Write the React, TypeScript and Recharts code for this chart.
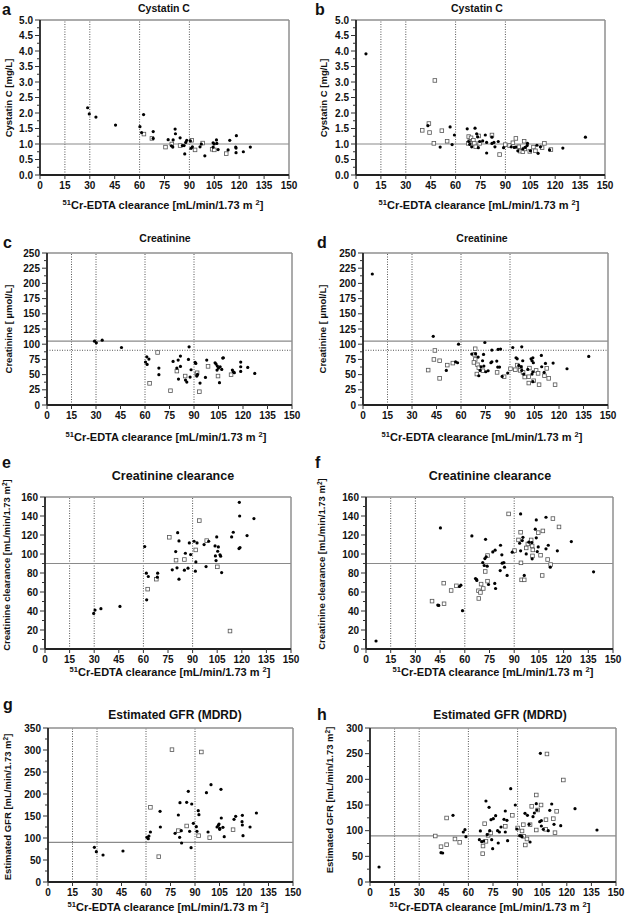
import React from "react";
import { ReferenceLine, Scatter, ScatterChart, XAxis, YAxis } from "recharts";

type Pt = [number, number];

// shared x axis (51Cr-EDTA clearance)
const xTicks = [0, 15, 30, 45, 60, 75, 90, 105, 120, 135, 150];
const gfrCutoffs = [15, 30, 60, 90];

// y tick labels
const cystatinTicks = [0, 0.5, 1, 1.5, 2, 2.5, 3, 3.5, 4, 4.5, 5];
const creatinineTicks = [0, 25, 50, 75, 100, 125, 150, 175, 200, 225, 250];
const crClTicks = [0, 20, 40, 60, 80, 100, 120, 140, 160];
const egfrTicksG = [0, 50, 100, 150, 200, 250, 300, 350];
const egfrTicksH = [0, 50, 100, 150, 200, 250, 300];

// a: cystatin C, left group
const cysAFilled: Pt[] = [
  [28.7, 2.17], [29.7, 1.97], [33.7, 1.87], [45.5, 1.61], [60.2, 1.56], [61.2, 1.37], [62.4, 1.95],
  [68.2, 1.4], [68.2, 1.18], [81.4, 1.48], [81.6, 1.33], [77.2, 1.14], [80.2, 1.13], [84.4, 1.2],
  [79.2, 0.94], [80, 0.9], [85.8, 0.95], [86.8, 0.95], [87.2, 0.68], [87.8, 1.05], [88.4, 1.12],
  [90.6, 1.1], [91.8, 0.91], [91, 0.86], [96.4, 0.91], [97.2, 1.0], [99.3, 0.62], [104.3, 1.04],
  [104.9, 1.0], [104.3, 0.9], [106.3, 1.13], [106.5, 1.02], [107.3, 0.82], [114.3, 1.12], [113.3, 0.81],
  [118.3, 1.27], [117.9, 0.9], [118.1, 0.87], [118.1, 0.72], [122.5, 0.75], [126.7, 0.9],
];
const cysAOpen: Pt[] = [
  [62.6, 1.32], [67.4, 1.18], [75.6, 0.9], [79.4, 1.0], [84.4, 0.95], [91.4, 1.12], [93.4, 0.81],
  [98, 1.03], [103.7, 0.83], [105, 0.81], [112.2, 0.69],
];

// b: cystatin C, right group
const cysBFilled: Pt[] = [
  [6, 3.91], [43.3, 1.59], [50.7, 0.9], [56.7, 1.55], [57.9, 0.98], [59.3, 1.29], [67, 1.49], [71.7, 1.51],
  [67.9, 1.08], [68.5, 0.99], [69.7, 0.91], [72.7, 1.33], [73.3, 1.23], [73.7, 0.88], [74.5, 1.08],
  [76.3, 1.1], [77.9, 1.29], [78.7, 1.05], [78.7, 0.71], [81.9, 1.22], [81.9, 1.02], [83.1, 1.05],
  [83.7, 0.91], [85.7, 1.08], [88.9, 0.88], [93.5, 0.91], [95.3, 0.89], [96.3, 0.9], [97.5, 0.78],
  [100.5, 0.84], [101.9, 0.89], [103.1, 0.95], [103.3, 1.02], [105.1, 0.78], [109, 0.96], [109.7, 0.7],
  [111.1, 0.91], [116.6, 0.81], [124.6, 0.87], [138.2, 1.22],
];
const cysBOpen: Pt[] = [
  [39.9, 1.44], [43.9, 1.66], [44.3, 1.37], [47.5, 3.05], [46.9, 1.02], [51.7, 1.43], [54.9, 1.09],
  [67.9, 1.24], [68.5, 1.08], [67.7, 1.02], [69.3, 1.2], [70.1, 1.08], [70.7, 1.12], [71.3, 1.02],
  [72.1, 0.91], [73.9, 1.26], [74.5, 1.02], [81.9, 1.29], [86.5, 0.66], [89.9, 0.98], [92.5, 0.95],
  [94.5, 1.04], [96.3, 1.18], [98.1, 0.91], [98.9, 0.77], [100.5, 0.75], [101.3, 1.09], [101.7, 0.84],
  [104.7, 0.76], [106.9, 0.9], [108.1, 0.78], [112.1, 0.88], [113.5, 1.02], [117.4, 0.82],
];

// c: creatinine, left group
const creaCFilled: Pt[] = [
  [29.1, 105], [30.2, 102.3], [33.8, 106.7], [45.6, 94.6], [61.1, 79.3], [62.4, 75.5], [60.3, 70.6],
  [61.3, 66.7], [68.5, 60.7], [68.5, 49.8], [77.2, 71.7], [79.5, 60.7], [80.3, 73.9], [81.7, 80.4],
  [81.7, 63.5], [80.5, 42.7], [84.8, 41], [85.6, 37.7], [86.6, 74.9], [87, 95.7], [87.6, 46], [88.2, 58],
  [90.7, 70], [91.1, 68.4], [91.7, 47.6], [92.1, 50.3], [93.7, 36.1], [97, 45.4], [97.8, 73.9],
  [102.9, 69.5], [103.5, 67.3], [104.3, 64], [104.1, 57.4], [105, 60.7], [105.6, 36.7], [106, 62.9],
  [107, 58.5], [107.6, 77.1], [108, 77.7], [113.5, 57.4], [114.1, 54.7], [114.7, 53.1], [118.6, 70.6],
  [118.6, 62.9], [118.6, 55.3], [122.9, 61.8], [127.2, 52],
];
const creaCOpen: Pt[] = [
  [67.7, 86.4], [62.8, 35.6], [75.6, 23.5], [79.5, 55.8], [84.6, 47.6], [91.7, 50.9], [98.6, 63.5],
  [93.3, 21.9], [104.7, 47.6], [112.7, 49.8], [91.9, 53],
];

// d: creatinine, right group
const creaDFilled: Pt[] = [
  [5.7, 215.5], [43, 113], [58.5, 100], [51, 56.9], [56.7, 71], [57.9, 69.5], [66.6, 83.7], [68.9, 84.2],
  [70.5, 78.8], [70.9, 48.1], [71.7, 56.9], [72.3, 62.9], [73.2, 72.8], [73.8, 83.2], [74, 64],
  [74.6, 102.8], [75.2, 54.7], [76.6, 56.3], [78.3, 69.5], [78.9, 71.1], [78.9, 90.3], [81.9, 72.2],
  [82.5, 62.4], [82.7, 91.4], [84.2, 91.9], [83.6, 62.4], [85.2, 47], [88.6, 52.5], [91.7, 94.6],
  [93.7, 77.7], [94.4, 76], [95.4, 65.1], [96.8, 62.9], [97.2, 95.7], [97.8, 72.8], [97.2, 56.9],
  [98.4, 50.9], [100.9, 58.5], [102.9, 76], [104, 77.7], [103.5, 72.8], [104.3, 69.5], [104, 54.7],
  [103.5, 50.9], [104, 38.3], [109.2, 81.5], [109.4, 62.9], [110.9, 53.6], [111.7, 68.4], [116.4, 68.9],
  [124.9, 59.6], [138.2, 79.9],
];
const creaDOpen: Pt[] = [
  [39.9, 57.4], [44, 89.7], [43.4, 74.9], [46.9, 72.8], [46.9, 43.8], [51.6, 65.6], [55, 68.9],
  [68.7, 92.5], [68.3, 83.2], [68.7, 74.9], [67.9, 70], [70.1, 66.2], [69.7, 50.9], [70.9, 61.3],
  [73.4, 56.3], [82.1, 53.6], [86.4, 46.5], [90.3, 59.6], [93.3, 58], [94.4, 65.6], [96.4, 61.8],
  [96.2, 56.9], [98, 53.6], [99, 46], [101.5, 36.1], [101.9, 60.7], [101.5, 46.5], [104.5, 39.9],
  [106, 56.9], [107.2, 52], [107.8, 33.4], [111.1, 48.1], [112.5, 60.2], [113.7, 43.8], [117.6, 33.4],
];

// e: creatinine clearance, left group
const crClEFilled: Pt[] = [
  [29.7, 37.5], [30.5, 41], [34.1, 42.4], [45.7, 44.8], [60.8, 107.8], [61.8, 79.8], [63, 76.3],
  [62, 51.8], [68.7, 79.8], [68.5, 75.6], [77.6, 83.3], [79.7, 102.6], [80.5, 85.4], [80.9, 122.5],
  [81.7, 113.8], [81.7, 73.5], [85, 83], [85.6, 100.8], [87.2, 85.1], [88, 111.7], [88.8, 99.4],
  [90.9, 113.4], [92, 91.7], [92.7, 111.7], [91.7, 81.9], [97, 109.9], [98.2, 86.8], [99.8, 113.4],
  [103.7, 108.5], [104.7, 118], [103.9, 98], [104.3, 93.1], [105.7, 107.5], [105.3, 102.9],
  [106.7, 99.1], [107.1, 97.7], [107.7, 80.5], [113.8, 118], [114.8, 122.9], [118.3, 105.7],
  [118.9, 106.8], [118.7, 140], [118.5, 154.4], [123.2, 119.4], [127.4, 137.3],
];
const crClEOpen: Pt[] = [
  [62.6, 63], [67.9, 73.5], [75.8, 117.6], [79.9, 93.5], [85, 94.2], [91.9, 104.3], [94.1, 135.2],
  [98.6, 114.1], [105.1, 86.5], [112.8, 18.9],
];

// f: creatinine clearance, right group
const crClFFilled: Pt[] = [
  [6.1, 8.4], [45.2, 127.5], [43.6, 46.2], [44.2, 45.9], [56.8, 65.8], [57.6, 67.2], [58.6, 40.3],
  [64.3, 119], [66.5, 74.2], [67.1, 73.3], [67.3, 72.1], [70.9, 91], [72.6, 115.5], [71.8, 87.9],
  [72.2, 95.2], [73, 97], [73.6, 87.2], [74.4, 67.9], [77, 102.2], [78.4, 104], [78.2, 69], [78.7, 63.7],
  [81.7, 109.2], [82.5, 99.1], [81.5, 82.6], [82.7, 90.3], [83.7, 91], [84.1, 86.1], [85.7, 77.4],
  [88.8, 101.9], [93.9, 142.2], [93.3, 111.3], [93.9, 103.3], [94.9, 114.1], [95.3, 117.6], [96.1, 77.4],
  [97.3, 100.1], [98.9, 112.4], [100.7, 112], [100.9, 94.9], [102.8, 126.1], [103.4, 135.9],
  [103.4, 117], [104, 102.6], [104.6, 107.5], [109.3, 138.7], [109.3, 105.4], [110.7, 109.2],
  [111.9, 86.1], [116.2, 103.3], [124.7, 113.1], [138.2, 81.2],
];
const crClFOpen: Pt[] = [
  [40.1, 50.4], [47.2, 69.3], [47.4, 47.6], [51.7, 61.6], [54.9, 66.5], [68.3, 61.3], [68.5, 53.2],
  [69.5, 59.5], [69.9, 68.3], [71.2, 63.7], [72.4, 81.6], [73.8, 98.4], [73.8, 71.4], [86.6, 142.2],
  [90.2, 103.6], [92.6, 114.8], [93.9, 122.9], [94.1, 90.7], [94.5, 72.8], [96.1, 72.8], [97.3, 106.4],
  [98.3, 110.6], [100.3, 114.8], [100.9, 108.5], [101.1, 98], [101.3, 104.3], [104.6, 122.5], [106, 98.7],
  [107, 77.4], [107.4, 124.3], [110.3, 94.2], [112.1, 88.9], [113.5, 137.3], [117.2, 128.5],
];

// g: eGFR (MDRD), left group
const egfrGFilled: Pt[] = [
  [28.4, 78.8], [29.6, 68.9], [33.7, 61.4], [45.9, 70.5], [60.6, 101.5], [61.4, 98.5], [61.8, 104.5],
  [62.7, 113.6], [68.6, 160.6], [68.8, 125], [77.8, 110.6], [79.8, 152.3], [80.8, 180.3], [80.6, 101.5],
  [81.6, 116.7], [81.8, 88.6], [84.9, 181.1], [85.9, 206.1], [86.7, 115.2], [87.6, 78], [88, 177.3],
  [89, 133.3], [90.8, 125.8], [91.2, 115.2], [92, 162.1], [92.4, 153], [97, 203], [98, 113.6],
  [99.8, 221.2], [103.5, 125], [104.3, 128.8], [104.7, 131.8], [105.1, 122], [105.1, 119.7],
  [105.9, 210.6], [106.1, 145.5], [107.1, 124.2], [107.9, 103], [113.9, 142.4], [114.9, 149.2],
  [119, 151.5], [118.8, 137.1], [119, 129.5], [119.4, 105.3], [123.7, 125], [127.6, 156.8],
];
const egfrGOpen: Pt[] = [
  [62.7, 169.7], [67.8, 57.6], [75.9, 300.8], [79.8, 116.7], [84.9, 127.3], [92.2, 105.3], [93.9, 295.5],
  [99, 100.8], [113.3, 118.9],
];

// h: eGFR (MDRD), right group
const egfrHFilled: Pt[] = [
  [5.5, 29.2], [43.3, 57.1], [44.3, 56.5], [50.6, 129.9], [56.9, 97.4], [57.9, 101.9], [58.5, 88.3],
  [67.3, 99.4], [66.7, 82.5], [68.1, 78.6], [69.3, 79.9], [70.7, 157.8], [71.5, 92.2], [72.6, 145.5],
  [73, 100], [73.8, 121.4], [74.2, 82.5], [74.8, 64.9], [75.2, 123.4], [76.6, 129.2], [77.8, 100],
  [78.2, 76], [78.9, 97.4], [79.9, 107.1], [81.7, 122.1], [82.5, 138.3], [82.5, 97.4], [83.5, 120.1],
  [83.9, 80.5], [85.8, 181.8], [88.6, 150], [89.6, 103.2], [91.3, 90.3], [92.1, 90], [92.7, 88.3],
  [94.5, 133.8], [96, 129.9], [97, 112.3], [97.6, 77.9], [99.4, 127.3], [100.2, 134.4], [101.4, 152.6],
  [101.8, 140.3], [103.5, 117.5], [103.9, 250.6], [104.5, 119.5], [104.5, 109.1], [105.7, 102.6],
  [108.7, 100], [109.6, 139.6], [110.8, 151.9], [112.2, 112.3], [116.3, 109.7], [125, 142.9], [138.4, 101.3],
];
const egfrHOpen: Pt[] = [
  [39.8, 89.6], [43.3, 68.8], [46.7, 72.7], [46.7, 124.7], [51.8, 83.8], [54.7, 77.3], [68.7, 55.2],
  [68.9, 70.1], [69.9, 113.6], [70.7, 79.2], [72, 90.9], [73.6, 95.5], [82.5, 108.4], [86.8, 129.9],
  [90, 105.2], [92.7, 99.4], [93.5, 111.7], [93.7, 89], [94.7, 72.1], [95.7, 83.8], [97.6, 111.7],
  [98.6, 147.4], [101.4, 169.5], [101.4, 101.3], [102.2, 140.3], [104.3, 150], [107.1, 102.6],
  [107.3, 121.4], [107.9, 249.4], [111.8, 123.4], [112.8, 96.1], [113.8, 137.7], [117.9, 198.7],
];

const FONT = "'Liberation Sans', Arial, Helvetica, sans-serif";

interface PanelCfg {
  id: string;
  cellX: number;
  left: number;
  right: number;
  top: number;
  bottom: number;
  ticks: number[];
  digits: number;
  filled: Pt[];
  open: Pt[];
  solidY: number;
  dottedY?: number;
  title: string;
  titleX: number;
  titleY: number;
  titleSize: number;
  letterX: number;
  letterY: number;
  xTitleX: number;
  xTitleY: number;
  yLabel: string;
  ySup?: boolean;
  yLabelX: number;
  yLabelY: number;
}

const panels: PanelCfg[] = [
  { id: "a", cellX: 0, left: 40, right: 289, top: 20, bottom: 175, ticks: cystatinTicks, digits: 1, filled: cysAFilled, open: cysAOpen, solidY: 1, title: "Cystatin C", titleX: 164, titleY: 12, titleSize: 10.5, letterX: 2, letterY: 15, xTitleX: 163, xTitleY: 209, yLabel: "Cystatin C [mg/L]", yLabelX: 12, yLabelY: 98 },
  { id: "b", cellX: 313, left: 356, right: 605, top: 20, bottom: 175, ticks: cystatinTicks, digits: 1, filled: cysBFilled, open: cysBOpen, solidY: 1, title: "Cystatin C", titleX: 477, titleY: 12, titleSize: 10.5, letterX: 315, letterY: 15, xTitleX: 479, xTitleY: 209, yLabel: "Cystatin C [mg/L]", yLabelX: 327, yLabelY: 98 },
  { id: "c", cellX: 0, left: 47, right: 292, top: 253, bottom: 405, ticks: creatinineTicks, digits: 0, filled: creaCFilled, open: creaCOpen, solidY: 105, dottedY: 90, title: "Creatinine", titleX: 165, titleY: 242, titleSize: 10.5, letterX: 3, letterY: 248, xTitleX: 166, xTitleY: 441, yLabel: "Creatinine [  µmol/L]", yLabelX: 12, yLabelY: 329 },
  { id: "d", cellX: 313, left: 363, right: 608, top: 253, bottom: 405, ticks: creatinineTicks, digits: 0, filled: creaDFilled, open: creaDOpen, solidY: 105, dottedY: 90, title: "Creatinine", titleX: 482, titleY: 242, titleSize: 10.5, letterX: 317, letterY: 248, xTitleX: 482, xTitleY: 441, yLabel: "Creatinine [  µmol/L]", yLabelX: 326, yLabelY: 329 },
  { id: "e", cellX: 0, left: 45, right: 291, top: 497, bottom: 649, ticks: crClTicks, digits: 0, filled: crClEFilled, open: crClEOpen, solidY: 90, title: "Creatinine clearance", titleX: 173, titleY: 480, titleSize: 12.5, letterX: 2, letterY: 468, xTitleX: 170, xTitleY: 676, yLabel: "Creatinine clearance [mL/min/1.73 m", ySup: true, yLabelX: 10, yLabelY: 565 },
  { id: "f", cellX: 313, left: 366, right: 613, top: 497, bottom: 649, ticks: crClTicks, digits: 0, filled: crClFFilled, open: crClFOpen, solidY: 90, title: "Creatinine clearance", titleX: 490, titleY: 480, titleSize: 12.5, letterX: 315, letterY: 468, xTitleX: 493, xTitleY: 676, yLabel: "Creatinine clearance [mL/min/1.73 m", ySup: true, yLabelX: 325, yLabelY: 564 },
  { id: "g", cellX: 0, left: 48, right: 293, top: 728, bottom: 882, ticks: egfrTicksG, digits: 0, filled: egfrGFilled, open: egfrGOpen, solidY: 90, title: "Estimated GFR (MDRD)", titleX: 175, titleY: 719, titleSize: 12, letterX: 3, letterY: 710, xTitleX: 168, xTitleY: 911, yLabel: "Estimated GFR [mL/min/1.73 m", ySup: true, yLabelX: 11, yLabelY: 807 },
  { id: "h", cellX: 313, left: 370, right: 616, top: 728, bottom: 882, ticks: egfrTicksH, digits: 0, filled: egfrHFilled, open: egfrHOpen, solidY: 90, title: "Estimated GFR (MDRD)", titleX: 500, titleY: 719, titleSize: 12, letterX: 317, letterY: 720, xTitleX: 490, xTitleY: 911, yLabel: "Estimated GFR [mL/min/1.73 m", ySup: true, yLabelX: 333, yLabelY: 800 },
];

function withMinor(ticks: number[]) {
  const out: number[] = [];
  ticks.forEach((t, i) => {
    out.push(t);
    if (i < ticks.length - 1) out.push((t + ticks[i + 1]) / 2);
  });
  return out;
}

function makeYTick(majors: number[], digits: number) {
  return function YTick(props: any) {
    const { x, y, payload } = props;
    const v = payload.value as number;
    const major = majors.some((m) => Math.abs(m - v) < 1e-9);
    return (
      <g>
        <line x1={x - (major ? 5 : 3)} x2={x} y1={y} y2={y} stroke="#333" strokeWidth={1} />
        {major && (
          <text x={x - 7} y={y} dy={3.5} textAnchor="end" fontSize={10} fontWeight="bold" fill="#111">
            {v.toFixed(digits)}
          </text>
        )}
      </g>
    );
  };
}

const FilledDot = (props: any) => <circle cx={props.cx} cy={props.cy} r={1.6} fill="#000" />;
const OpenSquare = (props: any) => (
  <rect x={props.cx - 1.8} y={props.cy - 1.8} width={3.6} height={3.6} fill="#fff" stroke="#555" strokeWidth={0.8} />
);

function Panel({ p }: { p: PanelCfg }) {
  const yMax = p.ticks[p.ticks.length - 1];
  const height = p.bottom - p.top + 40;
  const filled = p.filled.map(([x, y]) => ({ x, y }));
  const open = p.open.map(([x, y]) => ({ x, y }));
  return (
    <div style={{ position: "absolute", left: p.cellX, top: p.top - 10, width: 313, height }}>
      <ScatterChart
        width={313}
        height={height}
        margin={{ top: 10, right: p.cellX + 313 - p.right, bottom: 0, left: 0 }}
      >
        <XAxis
          type="number"
          dataKey="x"
          domain={[0, 150]}
          ticks={xTicks}
          interval={0}
          height={30}
          tickSize={4}
          tickMargin={3}
          axisLine={{ stroke: "#222", strokeWidth: 1.8 }}
          tickLine={{ stroke: "#333" }}
          tick={{ fontSize: 10, fontWeight: "bold", fill: "#111" }}
        />
        <YAxis
          type="number"
          dataKey="y"
          domain={[0, yMax]}
          ticks={withMinor(p.ticks)}
          interval={0}
          width={p.left - p.cellX}
          tickSize={0}
          tickMargin={0}
          tickLine={false}
          axisLine={{ stroke: "#222", strokeWidth: 1.8 }}
          tick={makeYTick(p.ticks, p.digits)}
        />
        {gfrCutoffs.map((c) => (
          <ReferenceLine key={c} x={c} stroke="#555" strokeDasharray="1 1.5" strokeWidth={1} />
        ))}
        {p.dottedY !== undefined && (
          <ReferenceLine y={p.dottedY} stroke="#555" strokeDasharray="1 1.5" strokeWidth={1} />
        )}
        <ReferenceLine y={p.solidY} stroke="#8a8a8a" strokeWidth={1.2} />
        <ReferenceLine y={yMax} stroke="#8f8f8f" strokeWidth={1.5} />
        <ReferenceLine x={150} stroke="#8f8f8f" strokeWidth={1.5} />
        <Scatter data={open} shape={OpenSquare} isAnimationActive={false} />
        <Scatter data={filled} shape={FilledDot} isAnimationActive={false} />
      </ScatterChart>
    </div>
  );
}

function Labels({ p }: { p: PanelCfg }) {
  return (
    <g fontWeight="bold" fill="#111">
      <text x={p.letterX} y={p.letterY} fontSize={16}>
        {p.id}
      </text>
      <text x={p.titleX} y={p.titleY} fontSize={p.titleSize} textAnchor="middle">
        {p.title}
      </text>
      <text x={p.xTitleX} y={p.xTitleY} fontSize={11} textAnchor="middle">
        <tspan fontSize={7.5} dy={-4}>51</tspan>
        <tspan dy={4}>Cr-EDTA clearance [mL/min/1.73 m </tspan>
        <tspan fontSize={7.5} dy={-4}>2</tspan>
        <tspan dy={4}>]</tspan>
      </text>
      <text transform={`translate(${p.yLabelX},${p.yLabelY}) rotate(-90)`} fontSize={9.5} textAnchor="middle">
        {p.ySup ? (
          <>
            <tspan>{p.yLabel}</tspan>
            <tspan fontSize={6.5} dy={-3.5}>2</tspan>
            <tspan dy={3.5}>]</tspan>
          </>
        ) : (
          p.yLabel
        )}
      </text>
    </g>
  );
}

export default function App() {
  return (
    <div style={{ position: "absolute", left: 0, top: 0, width: 626, height: 920, background: "#fff", fontFamily: FONT }}>
      {panels.map((p) => (
        <Panel key={p.id} p={p} />
      ))}
      <svg width={626} height={920} style={{ position: "absolute", left: 0, top: 0, pointerEvents: "none" }}>
        {panels.map((p) => (
          <Labels key={p.id} p={p} />
        ))}
      </svg>
    </div>
  );
}
